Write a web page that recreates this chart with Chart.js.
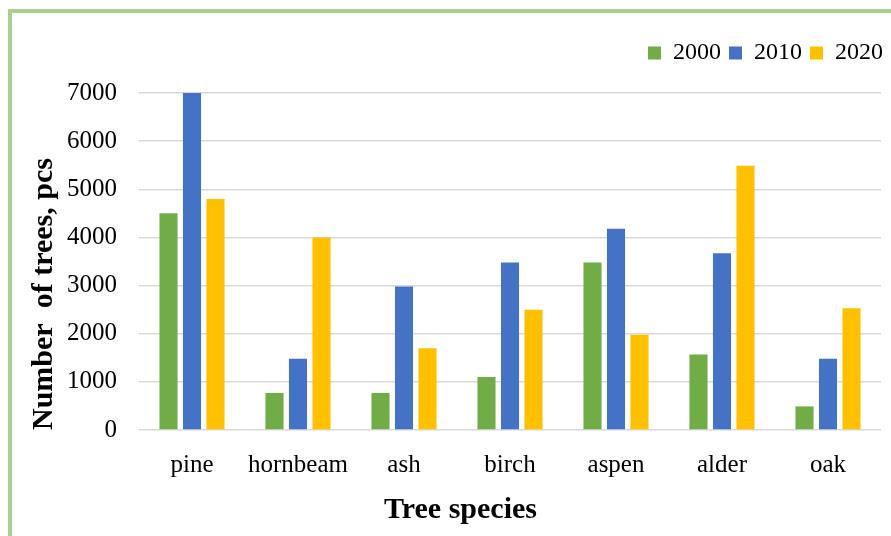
<!DOCTYPE html>
<html>
<head>
<meta charset="utf-8">
<script src="https://cdn.jsdelivr.net/npm/chart.js@4/dist/chart.umd.min.js"></script>
<style>
  html, body { margin: 0; padding: 0; background: #fff; overflow: hidden; }
  #wrap { position: relative; width: 891px; height: 536px; }
  #frame {
    position: absolute; left: 8px; top: 9px; width: 900px; height: 600px;
    border-left: 4px solid #a9d18e; border-top: 4px solid #a9d18e;
    pointer-events: none;
  }
</style>
</head>
<body>
<div id="wrap">
  <canvas id="chart" width="891" height="536"></canvas>
  <div id="frame"></div>
</div>
<script>
// 数据
const species = ['pine', 'hornbeam', 'ash', 'birch', 'aspen', 'alder', 'oak'];
const trees2000 = [4500, 770, 770, 1100, 3480, 1570, 490];
const trees2010 = [7000, 1480, 2980, 3480, 4180, 3670, 1480];
const trees2020 = [4800, 4000, 1700, 2500, 1980, 5490, 2530];
const yTicks = [0, 1000, 2000, 3000, 4000, 5000, 6000, 7000];

const FONT = 'Liberation Serif, Times New Roman, serif';

// 图例下方留白，图例和底部标题右移
const layoutTweak = {
  id: 'layoutTweak',
  beforeInit(chart) {
    const fit = chart.legend.fit;
    chart.legend.fit = function() {
      fit.bind(chart.legend)();
      this.height += 18;
    };
  },
  afterLayout(chart) {
    chart.legend.left += 10;
    chart.legend.right += 10;
    chart.titleBlock.left += 14;
    chart.titleBlock.right += 14;
  }
};

function ds(label, data, color) {
  return {
    label, data,
    backgroundColor: color,
    categoryPercentage: 0.665,
    barPercentage: 0.77
  };
}

new Chart(document.getElementById('chart'), {
  type: 'bar',
  data: {
    labels: species,
    datasets: [
      ds('2000', trees2000, '#70ad47'),
      ds('2010', trees2010, '#4472c4'),
      ds('2020', trees2020, '#ffc000')
    ]
  },
  options: {
    responsive: false,
    animation: false,
    layout: { padding: { left: 12, right: 10, top: 33, bottom: 0 } },
    plugins: {
      legend: {
        position: 'top',
        align: 'end',
        labels: {
          boxWidth: 13, boxHeight: 13, padding: 8,
          color: '#000',
          font: { family: FONT, size: 24 }
        }
      },
      title: {
        display: true,
        position: 'bottom',
        text: 'Tree species',
        color: '#000',
        font: { family: FONT, size: 30, weight: 'bold' },
        padding: { top: 9, bottom: 8 }
      },
      tooltip: { enabled: false }
    },
    scales: {
      x: {
        grid: { display: false },
        border: { display: false },
        ticks: {
          color: '#000',
          padding: 12,
          font: { family: FONT, size: 25 }
        },
        afterFit(scale) { scale.height = 53; }
      },
      y: {
        min: 0,
        max: 7000,
        afterBuildTicks(scale) { scale.ticks = yTicks.map(v => ({ value: v })); },
        grid: { color: '#d9d9d9', lineWidth: 1.5, drawTicks: false },
        border: { display: false },
        ticks: {
          color: '#000',
          padding: 22,
          font: { family: FONT, size: 25 },
          callback: v => String(v)
        },
        title: {
          display: true,
          text: 'Number  of trees, pcs',
          align: 'start',
          color: '#000',
          font: { family: FONT, size: 30, weight: 'bold' },
          padding: { top: 14, bottom: 0 }
        },
        afterFit(scale) { scale.width = 127; }
      }
    }
  },
  plugins: [layoutTweak]
});
</script>
</body>
</html>
